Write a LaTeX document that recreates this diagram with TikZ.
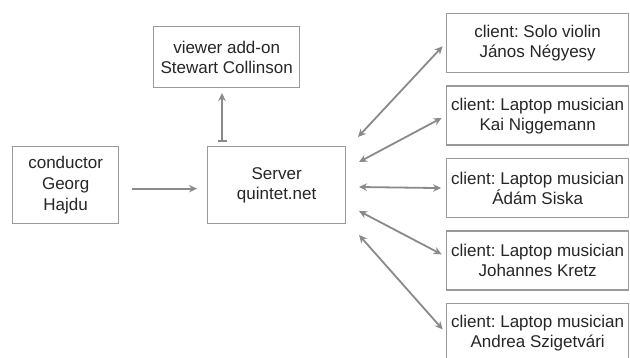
\documentclass[tikz,border=0pt]{standalone}
\usepackage{fontspec}
\setmainfont{Liberation Sans}
\frenchspacing
\usetikzlibrary{arrows.meta,calc}
\definecolor{boxgray}{HTML}{9A9A9A}
\definecolor{linegray}{HTML}{8A8A8A}
\definecolor{txt}{HTML}{262626}
\begin{document}
\begin{tikzpicture}[x=1pt,y=-1pt,
  box/.style={draw=boxgray, line width=1.3pt, anchor=north west, inner sep=0pt,
    align=center, text=txt, font=\fontsize{17}{20}\selectfont},
  conn/.style={draw=linegray, line width=1.8pt},
  tip/.style={-{Stealth[length=8pt,width=7.5pt]}},
  both/.style={{Stealth[length=8pt,width=7.5pt]}-{Stealth[length=8pt,width=7.5pt]}}
]
\useasboundingbox (0,0) rectangle (630,358);
\fill[white] (0,0) rectangle (630,358);

\node[box, minimum width=146pt, minimum height=61pt] (viewer) at (153,26) {viewer add-on\\Stewart Collinson};
\node[box, minimum width=106pt, minimum height=77pt, font=\fontsize{17}{21}\selectfont] (cond) at (12,146) {conductor\\Georg\\Hajdu};
\node[box, minimum width=138pt, minimum height=77pt] (server) at (207,146) {Server\\quintet.net};

\node[box, minimum width=182pt, minimum height=59pt] (c1) at (446,13) {client: Solo violin\\János Négyesy};
\node[box, minimum width=182pt, minimum height=59pt] (c2) at (446,85.5) {client: Laptop musician\\Kai Niggemann};
\node[box, minimum width=182pt, minimum height=59pt] (c3) at (446,158) {client: Laptop musician\\Ádám Siska};
\node[box, minimum width=182pt, minimum height=59pt] (c4) at (446,230.5) {client: Laptop musician\\Johannes Kretz};
\node[box, minimum width=182pt, minimum height=59pt] (c5) at (446,303) {client: Laptop musician\\Andrea Szigetvári};

% viewer arrow
\coordinate (vb) at (222,142);
\coordinate (vt) at (222,93);
\draw[conn, {Bar[width=9pt]}-{Stealth[length=8pt,width=7.5pt]}] (vb) -- (vt);

% conductor arrow
\draw[conn, tip, shorten <=13pt, shorten >=10pt] ([yshift=-3.5pt]cond.east) -- ([yshift=-3.5pt]server.west);

% client arrows
\coordinate (s1) at (358,137);
\coordinate (s2) at (359,162);
\coordinate (s3) at (359,187);
\coordinate (s4) at (359,211);
\coordinate (s5) at (359,235);
\draw[conn, both, shorten >=5pt] (s1) -- ([yshift=0.5pt]c1.west);
\draw[conn, both, shorten >=5pt] (s2) -- (c2.west);
\draw[conn, both, shorten >=5pt] (s3) -- (c3.west);
\draw[conn, both, shorten >=5pt] (s4) -- ([yshift=4pt]c4.west);
\draw[conn, both, shorten >=5pt] (s5) -- (c5.west);
\end{tikzpicture}
\end{document}
